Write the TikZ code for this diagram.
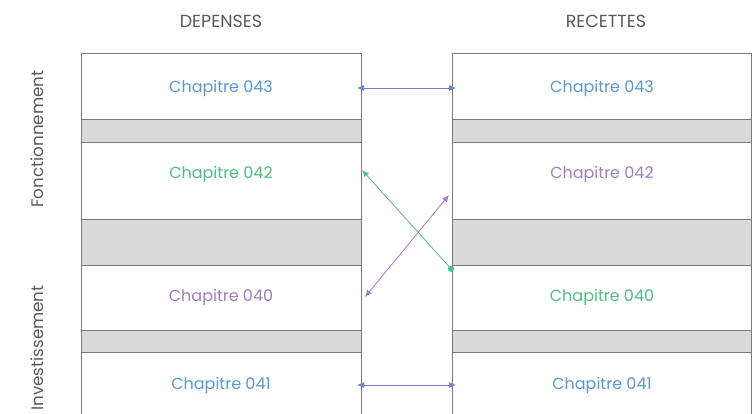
\documentclass[tikz,border=0pt]{standalone}
\usepackage{fontspec}
\setmainfont{Poppins}
\usetikzlibrary{arrows.meta}
\definecolor{cblue}{HTML}{5A98D4}
\definecolor{cgreen}{HTML}{4CBF84}
\definecolor{cpurple}{HTML}{A07EC2}
\definecolor{ablue}{HTML}{7382C8}
\definecolor{agreen}{HTML}{4DBF8A}
\definecolor{apurple}{HTML}{A07CD0}
\definecolor{edge}{HTML}{7A7A7A}
\definecolor{band}{HTML}{D9D9D9}
\definecolor{head}{HTML}{5A5A5A}
\tikzset{
  cell/.style={draw=edge, line width=0.9pt, fill=white, inner sep=0pt, outer sep=0pt},
  gap/.style={draw=edge, line width=0.9pt, fill=band, inner sep=0pt, outer sep=0pt},
  lab/.style={font=\fontsize{16}{18}\selectfont, inner sep=0pt},
  hdr/.style={font=\fontsize{17.5}{20}\selectfont, text=head, inner sep=0pt},
  side/.style={font=\fontsize{16.7}{19}\selectfont, text=head, rotate=90, inner sep=0pt},
  biarrow/.style={{Latex[length=7pt,width=6pt]}-{Latex[length=7pt,width=6pt]}, line width=0.8pt},
  dotstart/.style={{Circle[length=6pt]}-{Latex[length=7pt,width=6pt]}, line width=0.8pt}
}
\begin{document}
\begin{tikzpicture}[x=1pt,y=-1pt]
\useasboundingbox (0,0) rectangle (756,414);
\clip (0,0) rectangle (756,414);
\fill[white] (0,0) rectangle (756,414);
% headers
\node[hdr] (hd) at (221,21) {DEPENSES};
\node[hdr] (hr) at (606,21) {RECETTES};
\node[side] (fonc) at (37,139) {Fonctionnement};
\node[side] (inv) at (37,348) {Investissement};
% left column
\draw[cell] (81,53) rectangle (361,119);
\draw[gap] (81,119) rectangle (361,142);
\draw[cell] (81,142) rectangle (361,219);
\draw[gap] (81,219) rectangle (361,265);
\draw[cell] (81,265) rectangle (361,330);
\draw[gap] (81,330) rectangle (361,352);
\draw[cell] (81,352) rectangle (361,425);
% right column
\draw[cell] (452,53) rectangle (751,119);
\draw[gap] (452,119) rectangle (751,142);
\draw[cell] (452,142) rectangle (751,219);
\draw[gap] (452,219) rectangle (751,265);
\draw[cell] (452,265) rectangle (751,330);
\draw[gap] (452,330) rectangle (751,352);
\draw[cell] (452,352) rectangle (751,425);
% labels
\node[lab, text=cblue] (l43) at (221,88) {Chapitre 043};
\node[lab, text=cgreen] (l42) at (221,174) {Chapitre 042};
\node[lab, text=cpurple] (l40) at (221,297) {Chapitre 040};
\node[lab, text=cblue] (l41) at (221,385) {Chapitre 041};
\node[lab, text=cblue] (r43) at (602,88) {Chapitre 043};
\node[lab, text=cpurple] (r42) at (602,174) {Chapitre 042};
\node[lab, text=cgreen] (r40) at (602,297) {Chapitre 040};
\node[lab, text=cblue] (r41) at (602,385) {Chapitre 041};
% arrow end points
\coordinate (a43l) at (357,88);
\coordinate (a43r) at (456,88);
\coordinate (a41l) at (357,385);
\coordinate (a41r) at (456,385);
\coordinate (g1) at (362,170);
\coordinate (g2) at (453,271);
\coordinate (p1) at (365,297);
\coordinate (p2) at (449,195);
% arrows
\draw[biarrow, ablue] (a43l) -- (a43r);
\draw[biarrow, ablue] (a41l) -- (a41r);
\draw[dotstart, agreen] (g2) -- (g1);
\draw[biarrow, apurple] (p1) -- (p2);
\end{tikzpicture}
\end{document}
